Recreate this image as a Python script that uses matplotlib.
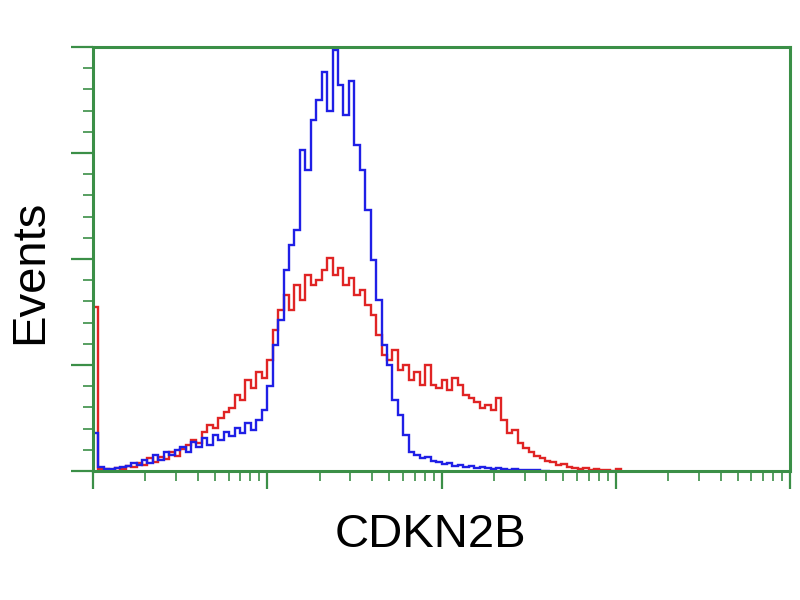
import numpy as np
import matplotlib
matplotlib.use("Agg")
import matplotlib.pyplot as plt
from matplotlib.ticker import LogLocator, MultipleLocator, NullFormatter

# histogram channels: 32 per decade over 4 decades (values in % of max)
channels_per_decade = 32

blue_counts = [
    9, 1, 0.5, 0.5, 0.7, 1, 1.2, 2, 1.4, 2.6,
    2, 3.8, 2.6, 4.5, 3.8, 5, 5.7, 4.5, 6.8, 5.7,
    7.8, 6.1, 8.5, 7.3, 9.2, 8.3, 10.1, 9, 11.3, 9.7,
    12, 14.4, 20, 29.7, 35.6, 47.4, 53.3, 56.8, 75.7, 71,
    82.8, 87.5, 94, 85, 99.3, 91, 84, 92, 77, 71,
    61.6, 49.8, 40.3, 29.7, 25, 16.7, 13.2, 8.5, 4.5, 3.8,
    3, 3.3, 2.4, 2.1, 1.6, 1.9, 1.2, 1.4, 0.9, 1.2,
    0.7, 0.9, 0.7, 0.5, 0.7, 0.5, 0.3, 0.5, 0.3, 0.2,
    0.3, 0.2, 0.1, 0.1,
]

red_counts = [
    38.7, 0.5, 0.5, 0.3, 0.7, 0.5, 1.2, 0.9, 1.9, 1.4,
    3.1, 2.1, 3.3, 2.8, 4.5, 3.5, 5.2, 6.1, 7.3, 6.6,
    9.2, 10.8, 10.1, 12.5, 13.9, 14.9, 17.9, 16.7, 21.5, 19.6,
    23.3, 21.9, 26.2, 33.3, 38, 41.5, 38, 43.9, 40.3, 46.2,
    43.9, 45, 47.4, 50.2, 46.2, 47.9, 43.9, 45.5, 41.5, 42.7,
    39.2, 36.8, 32, 27.4, 26.2, 28.5, 23.8, 25, 21.5, 23.3,
    20.3, 25, 20.3, 19.6, 21.5, 19.1, 21.9, 20.3, 17.9, 17.2,
    16.3, 14.9, 15.6, 14.4, 17.2, 12, 9, 9.7, 6.6, 5.4,
    4.5, 3.5, 3.1, 2.4, 2.1, 1.4, 1.6, 0.9, 0.7, 0.5,
    0.7, 0.3, 0.4, 0.2, 0.2, 0.1, 0.4,
]

green = "#3b8f47"

fig = plt.figure(figsize=(8, 6), dpi=100)
ax = fig.add_axes([93 / 800, 1 - 471 / 600, (790 - 93) / 800, (471 - 47) / 600])

red_edges = 10 ** (np.arange(len(red_counts) + 1) / channels_per_decade)
blue_edges = 10 ** (np.arange(len(blue_counts) + 1) / channels_per_decade)
ax.stairs(red_counts, red_edges, color="#e02424", lw=1.7)
ax.stairs(blue_counts, blue_edges, color="#1f1fe6", lw=1.7)

ax.set_xscale("log")
ax.set_xlim(1, 1e4)
ax.set_ylim(0, 100)

ax.xaxis.set_major_locator(LogLocator(base=10, numticks=10))
ax.xaxis.set_minor_locator(LogLocator(base=10, subs=np.arange(2, 10), numticks=20))
ax.xaxis.set_major_formatter(NullFormatter())
ax.xaxis.set_minor_formatter(NullFormatter())
ax.yaxis.set_major_locator(MultipleLocator(25))
ax.yaxis.set_minor_locator(MultipleLocator(5))
ax.yaxis.set_major_formatter(NullFormatter())

for s in ax.spines.values():
    s.set_color(green)
    s.set_linewidth(2.2)

ax.tick_params(axis="x", which="major", length=13, width=1.6, color=green, direction="out")
ax.tick_params(axis="x", which="minor", length=7, width=1.2, color=green, direction="out")
ax.tick_params(axis="y", which="major", length=16, width=1.6, color=green, direction="out")
ax.tick_params(axis="y", which="minor", length=7, width=1.2, color=green, direction="out")

fig.text(430 / 800, 1 - 535 / 600, "CDKN2B", fontsize=34, family="Liberation Sans",
         ha="center", va="center")
fig.text(30 / 800, 1 - 272 / 600, "Events", fontsize=34, family="Liberation Sans",
         ha="center", va="center", rotation=90)

fig.savefig("out.png", dpi=100)
